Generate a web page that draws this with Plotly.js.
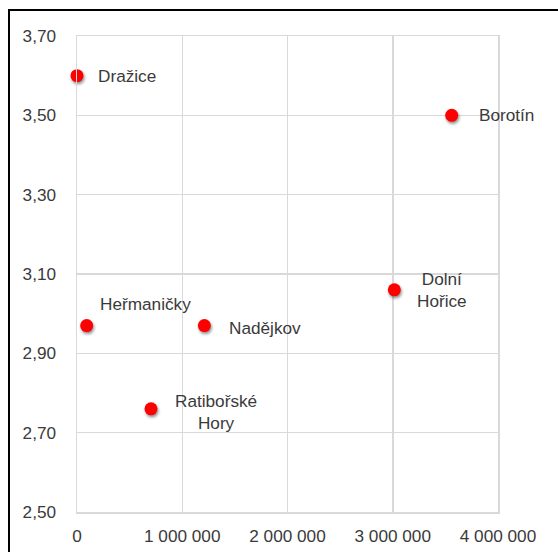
<!DOCTYPE html>
<html>
<head>
<meta charset="utf-8">
<script src="https://cdn.plot.ly/plotly-3.0.1.min.js"></script>
<style>
html,body{margin:0;padding:0;background:#fff;}
#chart{position:absolute;left:0;top:0;width:558px;height:552px;}
#frame{position:absolute;left:8px;top:9px;width:600px;height:600px;border:2px solid #000;pointer-events:none;}
#chart .scatterlayer .point{filter:drop-shadow(1px 2px 1.5px rgba(0,0,0,0.45));}
</style>
</head>
<body>
<div id="chart"></div>
<div id="frame"></div>
<script>
// Data
const names = ["Dražice", "Borotín", "Heřmaničky", "Nadějkov", "Ratibořské<br>Hory", "Dolní<br>Hořice"];
const xValues = [0, 3560000, 92000, 1210000, 703000, 3015000];
const yValues = [3.60, 3.50, 2.97, 2.97, 2.76, 3.06];
const xTicks = [0, 1000000, 2000000, 3000000, 4000000];
const yTicks = [2.5, 2.7, 2.9, 3.1, 3.3, 3.5, 3.7];

// Label placement (layout only)
const labelShiftX = [19, 25, 11, 23, 65, 48];
const labelShiftY = [0, 0, 22, -2, -3, 0];
const labelAnchor = ["left", "left", "left", "left", "center", "center"];

const font = {family: "Liberation Sans, Arial, sans-serif", size: 17.2, color: "#3a3a3a"};

const annotations = names.map((n, i) => ({
  x: xValues[i], y: yValues[i], xref: "x", yref: "y",
  text: n, showarrow: false, xanchor: labelAnchor[i], yanchor: "middle",
  xshift: labelShiftX[i], yshift: labelShiftY[i], align: "center", font: font
}));

const trace = {
  type: "scatter", mode: "markers", x: xValues, y: yValues,
  marker: {color: "#ff0000", size: 13, line: {width: 0}},
  hoverinfo: "skip", cliponaxis: false
};

const layout = {
  width: 558, height: 552,
  margin: {l: 77, r: 60, t: 36, b: 40},
  paper_bgcolor: "#fff", plot_bgcolor: "#fff",
  separators: ", ",
  showlegend: false,
  font: font,
  xaxis: {
    range: [0, 4000000], tickvals: xTicks, tickformat: ",d",
    showgrid: true, gridcolor: "#d9d9d9", gridwidth: 1.5,
    showline: true, linecolor: "#d9d9d9", linewidth: 1.5, mirror: true,
    zeroline: false, ticks: "", ticklabelstandoff: 8, fixedrange: true
  },
  yaxis: {
    range: [2.5, 3.7], tickvals: yTicks, tickformat: ".2f",
    showgrid: true, gridcolor: "#d9d9d9", gridwidth: 1.5,
    showline: true, linecolor: "#d9d9d9", linewidth: 1.5, mirror: true,
    zeroline: false, ticks: "", ticklabelstandoff: 16, fixedrange: true
  },
  annotations: annotations
};

Plotly.newPlot("chart", [trace], layout, {displayModeBar: false, staticPlot: true});
</script>
</body>
</html>
